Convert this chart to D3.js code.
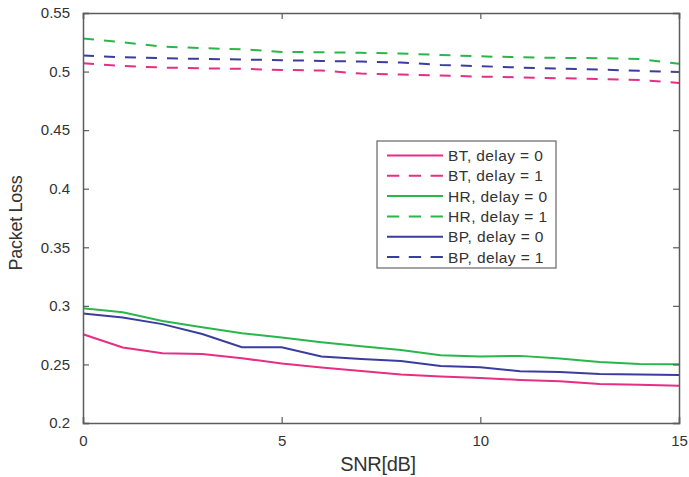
<!DOCTYPE html>
<html>
<head>
<meta charset="utf-8">
<script src="https://cdn.jsdelivr.net/npm/d3@7"></script>
<style>
html,body{margin:0;padding:0;background:#fff;}
svg{display:block;font-family:"Liberation Sans",Arial,sans-serif;}
</style>
</head>
<body>
<svg id="chart" width="689" height="477"></svg>
<script>
const snr = [0,1,2,3,4,5,6,7,8,9,10,11,12,13,14,15];
const btDelay0 = [0.2758,0.2644,0.2596,0.2590,0.2553,0.2507,0.2473,0.2444,0.2413,0.2396,0.2385,0.2368,0.2356,0.2333,0.2327,0.2319];
const btDelay1 = [0.5071,0.5048,0.5034,0.5028,0.5023,0.5014,0.5009,0.4983,0.4974,0.4966,0.4957,0.4951,0.4943,0.4937,0.4928,0.4903];
const hrDelay0 = [0.2980,0.2946,0.2870,0.2818,0.2767,0.2730,0.2690,0.2655,0.2624,0.2578,0.2567,0.2573,0.2550,0.2521,0.2504,0.2501];
const hrDelay1 = [0.5282,0.5250,0.5214,0.5200,0.5190,0.5168,0.5165,0.5160,0.5154,0.5142,0.5130,0.5122,0.5117,0.5114,0.5108,0.5066];
const bpDelay0 = [0.2934,0.2900,0.2844,0.2760,0.2647,0.2647,0.2567,0.2547,0.2530,0.2487,0.2476,0.2442,0.2436,0.2419,0.2413,0.2410];
const bpDelay1 = [0.5137,0.5122,0.5114,0.5108,0.5103,0.5097,0.5091,0.5085,0.5077,0.5057,0.5046,0.5034,0.5026,0.5017,0.5006,0.4997];
const xTicks = [0,5,10,15];
const yTicks = [0.2,0.25,0.3,0.35,0.4,0.45,0.5,0.55];
const yTickLabels = ["0.2","0.25","0.3","0.35","0.4","0.45","0.5","0.55"];
const seriesNames = ["BT, delay = 0","BT, delay = 1","HR, delay = 0","HR, delay = 1","BP, delay = 0","BP, delay = 1"];
const seriesData = [btDelay0, btDelay1, hrDelay0, hrDelay1, bpDelay0, bpDelay1];
const seriesColors = ["#e62e83","#e62e83","#2bb64c","#2bb64c","#3b3d9e","#3b3d9e"];
const seriesDashed = [false,true,false,true,false,true];

(function(){
const svg = d3.select("#chart");
const L = 83, R = 679, T = 13, B = 423;
const x = d3.scaleLinear().domain([0,15]).range([L,R]);
const y = d3.scaleLinear().domain([0.2,0.55]).range([B,T]);
const axisColor = "#5c5c5c";

const line = d3.line().x((d,i)=>x(snr[i])).y(d=>y(d));
const g = svg.append("g");
seriesData.forEach((s,k)=>{
  g.append("path").datum(s)
    .attr("d", line)
    .attr("fill","none")
    .attr("stroke", seriesColors[k])
    .attr("stroke-width", 2)
    .attr("stroke-dasharray", seriesDashed[k] ? "11,10" : null);
});

const tickLen = 6;
const axBottom = svg.append("g").attr("transform",`translate(0,${B})`)
  .call(d3.axisBottom(x).tickValues(xTicks).tickSize(-tickLen).tickPadding(12).tickFormat(d3.format("d")));
const axTop = svg.append("g").attr("transform",`translate(0,${T})`)
  .call(d3.axisTop(x).tickValues(xTicks).tickSize(-tickLen).tickFormat(""));
const axLeft = svg.append("g").attr("transform",`translate(${L},0)`)
  .call(d3.axisLeft(y).tickValues(yTicks).tickSize(-tickLen).tickPadding(13).tickFormat((d,i)=>yTickLabels[i]));
const axRight = svg.append("g").attr("transform",`translate(${R},0)`)
  .call(d3.axisRight(y).tickValues(yTicks).tickSize(-tickLen).tickFormat(""));
[axBottom,axTop,axLeft,axRight].forEach(a=>{
  a.select(".domain").attr("stroke",axisColor).attr("stroke-width",1.5);
  a.selectAll(".tick line").attr("stroke",axisColor).attr("stroke-width",1.2);
  a.selectAll("text").attr("fill","#333").style("font-size","15px").style("font-family","'Liberation Sans',Arial,sans-serif");
});

svg.append("text").attr("x",(L+R)/2 - 3).attr("y",471)
  .attr("text-anchor","middle").attr("fill","#333")
  .style("font-size","20px").style("letter-spacing","-0.3px").text("SNR[dB]");
svg.append("text").attr("transform",`translate(22,${(T+B)/2+5}) rotate(-90)`)
  .attr("text-anchor","middle").attr("fill","#333")
  .style("font-size","18px").style("letter-spacing","-0.3px").text("Packet Loss");

const lg = svg.append("g");
lg.append("rect").attr("x",377).attr("y",141).attr("width",179).attr("height",127)
  .attr("fill","#fff").attr("stroke","#666").attr("stroke-width",1.2);
seriesNames.forEach((n,k)=>{
  const yy = 155.5 + k*20.3;
  lg.append("line").attr("x1",387).attr("x2",443).attr("y1",yy).attr("y2",yy)
    .attr("stroke",seriesColors[k]).attr("stroke-width",2)
    .attr("stroke-dasharray", seriesDashed[k] ? "12.3,9.5" : null);
  lg.append("text").attr("x",448).attr("y",yy).attr("dy","0.36em")
    .attr("fill","#333").style("font-size","15.5px").style("letter-spacing","0.4px").text(n);
});
})();
</script>
</body>
</html>
